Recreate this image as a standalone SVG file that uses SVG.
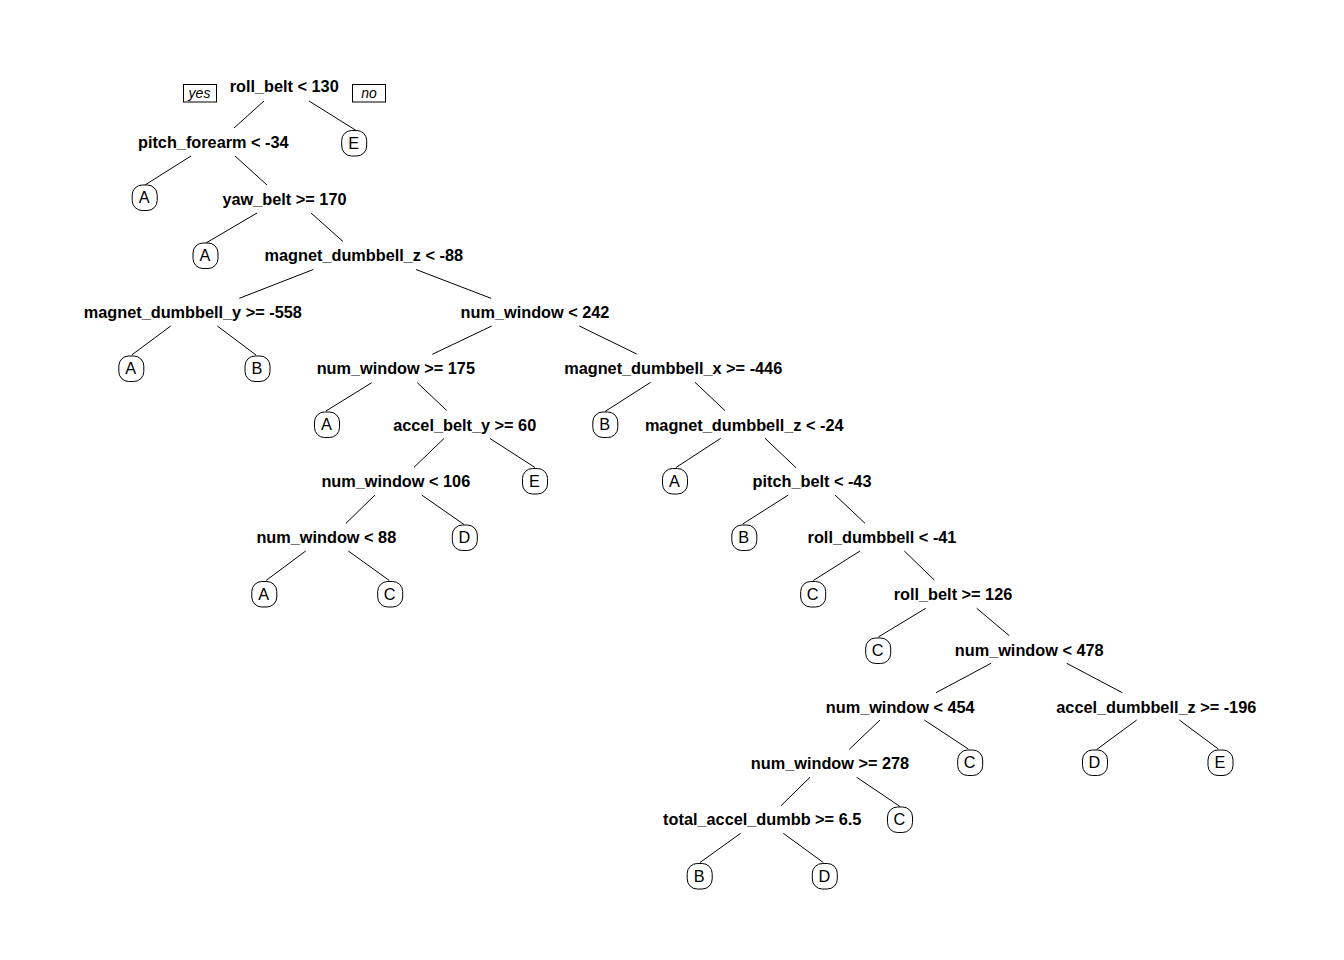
<svg xmlns="http://www.w3.org/2000/svg" width="1344" height="960" viewBox="0 0 1344 960">
<style>
.bg{fill:#fff}
.n{font-family:"Liberation Sans",Arial,sans-serif;font-size:16.3px;font-weight:bold;fill:#000;text-anchor:middle}
.lf rect{fill:#fff;stroke:#000;stroke-width:1}
.lf text{font-family:"Liberation Sans",Arial,sans-serif;font-size:16.3px;fill:#000;text-anchor:middle}
.yn rect{fill:#fff;stroke:#000;stroke-width:1}
.yn text{font-family:"Liberation Sans",Arial,sans-serif;font-size:14px;font-style:italic;fill:#000;text-anchor:middle}
#edges line{stroke:#000;stroke-width:1}
</style>
<rect class="bg" x="0" y="0" width="1344" height="960"/>
<g id="edges">
<line x1="264" y1="101" x2="234" y2="128"/>
<line x1="309" y1="101" x2="357" y2="131"/>
<line x1="191" y1="156" x2="145" y2="185"/>
<line x1="235" y1="156" x2="267" y2="185"/>
<line x1="257" y1="213" x2="206" y2="243"/>
<line x1="311" y1="213" x2="343" y2="241.5"/>
<line x1="313.3" y1="269.5" x2="239.3" y2="298.3"/>
<line x1="416" y1="269.5" x2="491" y2="298.3"/>
<line x1="170.7" y1="326" x2="131.7" y2="355"/>
<line x1="217.3" y1="326" x2="256" y2="355"/>
<line x1="491.7" y1="326" x2="432.3" y2="354.3"/>
<line x1="579.3" y1="326" x2="636.7" y2="354"/>
<line x1="371.7" y1="382.7" x2="326" y2="411"/>
<line x1="417.3" y1="382.7" x2="446.7" y2="410.5"/>
<line x1="444" y1="438.5" x2="414" y2="467.3"/>
<line x1="490" y1="438.5" x2="535" y2="467.5"/>
<line x1="375" y1="495" x2="346" y2="523.3"/>
<line x1="421.7" y1="495" x2="464" y2="524.5"/>
<line x1="305.7" y1="551" x2="266" y2="580.5"/>
<line x1="348.3" y1="551" x2="389.3" y2="580.5"/>
<line x1="650.7" y1="382.3" x2="605" y2="411.5"/>
<line x1="695" y1="382.3" x2="725" y2="410.7"/>
<line x1="720.7" y1="438.3" x2="676" y2="467.5"/>
<line x1="765" y1="438.3" x2="796" y2="467.7"/>
<line x1="788.3" y1="495" x2="742.7" y2="524"/>
<line x1="835" y1="495" x2="865" y2="523.3"/>
<line x1="860" y1="551" x2="813.3" y2="580.5"/>
<line x1="904.3" y1="551" x2="934.3" y2="580"/>
<line x1="925.7" y1="608.3" x2="878.3" y2="637"/>
<line x1="976.7" y1="608.3" x2="1009.3" y2="635.7"/>
<line x1="991" y1="663.3" x2="936" y2="692.7"/>
<line x1="1066.7" y1="663.3" x2="1122.3" y2="692.7"/>
<line x1="880" y1="720" x2="849.3" y2="749.3"/>
<line x1="924.3" y1="720" x2="968.3" y2="749"/>
<line x1="1136.7" y1="720" x2="1096.7" y2="749.5"/>
<line x1="1179.3" y1="720" x2="1218.3" y2="749"/>
<line x1="810" y1="777.3" x2="781" y2="805.7"/>
<line x1="856.7" y1="777.3" x2="900" y2="806.5"/>
<line x1="740.7" y1="833.3" x2="700" y2="862.5"/>
<line x1="783.3" y1="833.3" x2="823.3" y2="862.5"/>
</g>
<g id="yes" class="yn"><rect x="183.5" y="84.5" width="33" height="17.5"/><text x="199.5" y="97.5">yes</text></g>
<g id="no" class="yn"><rect x="352.5" y="84.5" width="33" height="17.5"/><text x="369" y="97.5">no</text></g>
<g id="n1"><text class="n" x="284.2" y="92">roll_belt &lt; 130</text></g>
<g id="n2"><text class="n" x="213.3" y="148.3">pitch_forearm &lt; -34</text></g>
<g id="n5"><text class="n" x="284.5" y="204.8">yaw_belt &gt;= 170</text></g>
<g id="n11"><text class="n" x="363.8" y="261.3">magnet_dumbbell_z &lt; -88</text></g>
<g id="n22"><text class="n" x="192.8" y="317.8">magnet_dumbbell_y &gt;= -558</text></g>
<g id="n23"><text class="n" x="535" y="317.8">num_window &lt; 242</text></g>
<g id="n46"><text class="n" x="395.8" y="374.3">num_window &gt;= 175</text></g>
<g id="n47"><text class="n" x="673.2" y="374.3">magnet_dumbbell_x &gt;= -446</text></g>
<g id="n93"><text class="n" x="464.7" y="430.8">accel_belt_y &gt;= 60</text></g>
<g id="n95"><text class="n" x="744.2" y="430.8">magnet_dumbbell_z &lt; -24</text></g>
<g id="n186"><text class="n" x="395.8" y="487.3">num_window &lt; 106</text></g>
<g id="n191"><text class="n" x="812" y="487.3">pitch_belt &lt; -43</text></g>
<g id="n372"><text class="n" x="326.3" y="543.3">num_window &lt; 88</text></g>
<g id="n383"><text class="n" x="882" y="543.3">roll_dumbbell &lt; -41</text></g>
<g id="n767"><text class="n" x="953" y="599.8">roll_belt &gt;= 126</text></g>
<g id="n1535"><text class="n" x="1029.2" y="656.3">num_window &lt; 478</text></g>
<g id="n3070"><text class="n" x="900.2" y="712.8">num_window &lt; 454</text></g>
<g id="n3071"><text class="n" x="1156.3" y="712.8">accel_dumbbell_z &gt;= -196</text></g>
<g id="n6140"><text class="n" x="830" y="768.8">num_window &gt;= 278</text></g>
<g id="n12280"><text class="n" x="762.2" y="825.3">total_accel_dumbb &gt;= 6.5</text></g>
<g id="l3" class="lf"><rect x="341.7" y="130.5" width="25" height="25.5" rx="10"/><text x="353.7" y="148.8">E</text></g>
<g id="l4" class="lf"><rect x="132.2" y="185" width="25" height="25.5" rx="10"/><text x="144.2" y="203.3">A</text></g>
<g id="l10" class="lf"><rect x="193" y="243" width="25" height="25.5" rx="10"/><text x="205" y="261.3">A</text></g>
<g id="l44" class="lf"><rect x="118.8" y="356" width="25" height="25.5" rx="10"/><text x="130.8" y="374.3">A</text></g>
<g id="l45" class="lf"><rect x="245" y="356" width="25" height="25.5" rx="10"/><text x="257" y="374.3">B</text></g>
<g id="l92" class="lf"><rect x="314.5" y="412" width="25" height="25.5" rx="10"/><text x="326.5" y="430.3">A</text></g>
<g id="l94" class="lf"><rect x="592.8" y="412" width="25" height="25.5" rx="10"/><text x="604.8" y="430.3">B</text></g>
<g id="l187" class="lf"><rect x="522.5" y="468.5" width="25" height="25.5" rx="10"/><text x="534.5" y="486.8">E</text></g>
<g id="l190" class="lf"><rect x="662.5" y="468.5" width="25" height="25.5" rx="10"/><text x="674.5" y="486.8">A</text></g>
<g id="l373" class="lf"><rect x="452.3" y="525" width="25" height="25.5" rx="10"/><text x="464.3" y="543.3">D</text></g>
<g id="l382" class="lf"><rect x="731.8" y="525" width="25" height="25.5" rx="10"/><text x="743.8" y="543.3">B</text></g>
<g id="l744" class="lf"><rect x="251.8" y="581.5" width="25" height="25.5" rx="10"/><text x="263.8" y="599.8">A</text></g>
<g id="l745" class="lf"><rect x="377.7" y="581.5" width="25" height="25.5" rx="10"/><text x="389.7" y="599.8">C</text></g>
<g id="l766" class="lf"><rect x="800.7" y="581.5" width="25" height="25.5" rx="10"/><text x="812.7" y="599.8">C</text></g>
<g id="l1534" class="lf"><rect x="865.7" y="638" width="25" height="25.5" rx="10"/><text x="877.7" y="656.3">C</text></g>
<g id="l6141" class="lf"><rect x="957.7" y="750" width="25" height="25.5" rx="10"/><text x="969.7" y="768.3">C</text></g>
<g id="l6142" class="lf"><rect x="1082.5" y="750" width="25" height="25.5" rx="10"/><text x="1094.5" y="768.3">D</text></g>
<g id="l6143" class="lf"><rect x="1208" y="750" width="25" height="25.5" rx="10"/><text x="1220" y="768.3">E</text></g>
<g id="l12281" class="lf"><rect x="887.5" y="807" width="25" height="25.5" rx="10"/><text x="899.5" y="825.3">C</text></g>
<g id="l24560" class="lf"><rect x="687.2" y="863.5" width="25" height="25.5" rx="10"/><text x="699.2" y="881.8">B</text></g>
<g id="l24561" class="lf"><rect x="812.3" y="863.5" width="25" height="25.5" rx="10"/><text x="824.3" y="881.8">D</text></g>
</svg>
